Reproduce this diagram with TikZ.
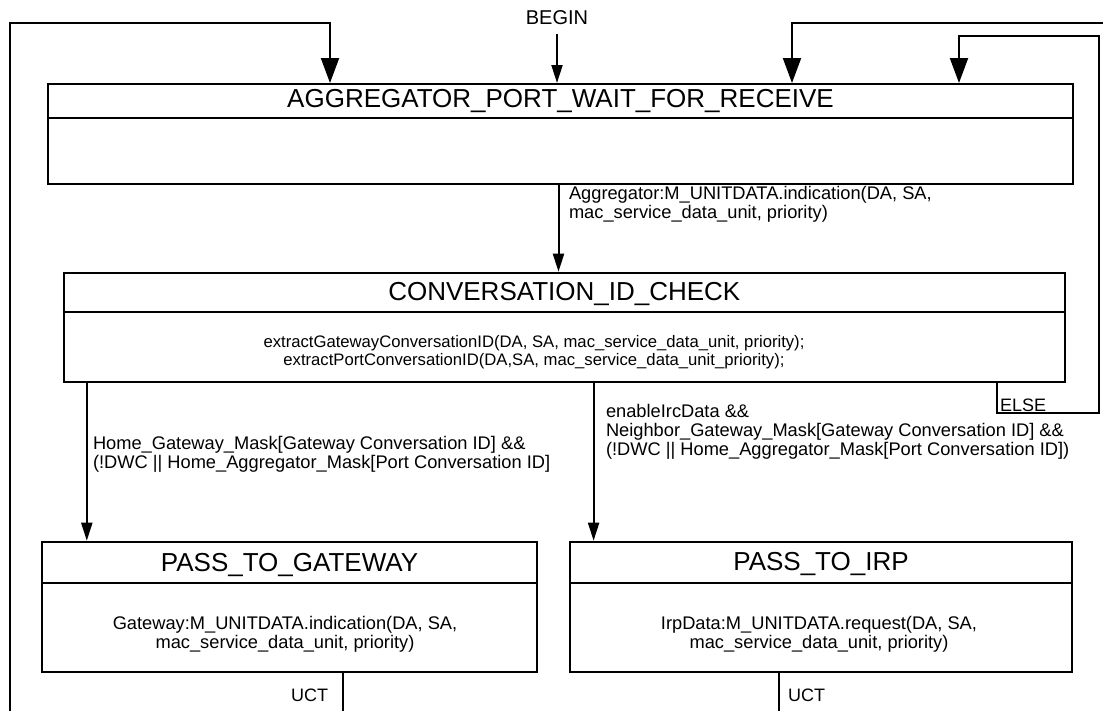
\documentclass[tikz,border=0pt]{standalone}
\usepackage{fontspec}
\setmainfont{Liberation Sans}
\usetikzlibrary{arrows.meta,fit}

\begin{document}
\begin{tikzpicture}[x=0.75pt,y=-0.75pt,
  line width=1.5pt,
  statebox/.style={draw, line width=1.5pt, inner sep=0pt},
  titletext/.style={font=\fontsize{19.5}{23}\selectfont, anchor=base, inner sep=0pt},
  bodytext/.style={font=\fontsize{13.7}{14.5}\selectfont, align=center, anchor=north, inner sep=0pt},
  condtext/.style={font=\fontsize{13.7}{14.25}\selectfont, align=left, anchor=north west, inner sep=0pt},
  smalltext/.style={font=\fontsize{13.5}{15}\selectfont, inner sep=0pt},
  bigarr/.style={-{Triangle[length=18.75pt,width=13.5pt]}},
  smallarr/.style={-{Triangle[length=13.5pt,width=8.25pt]}},
]
% canvas
\path[fill=white,use as bounding box] (0,0) rectangle (1103,711);

% state boxes
\node[statebox, fit={(48,84) (1073,184)}] (wait) {};
\node[statebox, fit={(63.6,272.7) (1065,381.7)}] (conv) {};
\node[statebox, fit={(42,541.7) (537,671.7)}] (gw) {};
\node[statebox, fit={(570.4,541.7) (1071.8,671.7)}] (irp) {};

% title separators
\coordinate (waitD) at (0,118);
\coordinate (convD) at (0,312);
\coordinate (gwD) at (0,582.7);
\coordinate (irpD) at (0,582.7);
\draw (wait.west |- waitD) -- (wait.east |- waitD);
\draw (conv.west |- convD) -- (conv.east |- convD);
\draw (gw.west |- gwD) -- (gw.east |- gwD);
\draw (irp.west |- irpD) -- (irp.east |- irpD);

% titles
\node[titletext] (waitT) at (560.5,107) {AGGREGATOR\_PORT\_WAIT\_FOR\_RECEIVE};
\node[titletext] (convT) at (564.3,300) {CONVERSATION\_ID\_CHECK};
\node[titletext] (gwT) at (289.5,571.5) {PASS\_TO\_GATEWAY};
\node[titletext] (irpT) at (821,570.7) {PASS\_TO\_IRP};

% state actions
\node[bodytext, font=\fontsize{12.5}{13.75}\selectfont] (convB) at (534,334.5)
  {extractGatewayConversationID(DA, SA, mac\_service\_data\_unit, priority);\\
   extractPortConversationID(DA,SA, mac\_service\_data\_unit\_priority);};
\node[bodytext] (gwB) at (285,615)
  {Gateway:M\_UNITDATA.indication(DA, SA,\\mac\_service\_data\_unit, priority)};
\node[bodytext] (irpB) at (819,615)
  {IrpData:M\_UNITDATA.request(DA, SA,\\mac\_service\_data\_unit, priority)};

% entry
\node[font=\fontsize{15}{18}\selectfont, anchor=base, inner xsep=0pt, inner ysep=6.5pt] (begin) at (557,24) {BEGIN};
\draw[smallarr] (begin.south) -- (wait.north -| begin.south);

% loops back into the waiting state
\coordinate (lb) at (10,711);
\coordinate (lt) at (330,22.7);
\draw[bigarr] (lb) |- (lt) -- (wait.north -| lt);

\coordinate (rb) at (1103,22.7);
\coordinate (rt) at (792,22.7);
\draw[bigarr] (rb) -- (rt) -- (wait.north -| rt);

\coordinate (ex) at (997,412.7);
\coordinate (er) at (1099,36);
\coordinate (et) at (959,36);
\draw[bigarr] (conv.south -| ex) -- (ex) -| (er) -- (et) -- (wait.north -| et);
\node[smalltext, anchor=base west] (elseL) at (999,411.3) {ELSE};

% received frame
\coordinate (m1) at (558.5,0);
\draw[smallarr] (wait.south -| m1) -- (conv.north -| m1);
\node[condtext] (aggL) at (568,185)
  {Aggregator:M\_UNITDATA.indication(DA, SA,\\mac\_service\_data\_unit, priority)};

% forwarding branches
\coordinate (bx1) at (86.8,0);
\coordinate (bx2) at (593.6,0);
\draw[smallarr] (conv.south -| bx1) -- (gw.north -| bx1);
\draw[smallarr] (conv.south -| bx2) -- (irp.north -| bx2);
\node[condtext] (gwL) at (92,435)
  {Home\_Gateway\_Mask[Gateway Conversation ID] \&\&\\(!DWC || Home\_Aggregator\_Mask[Port Conversation ID]};
\node[condtext] (irpL) at (605,403.5)
  {enableIrcData \&\&\\Neighbor\_Gateway\_Mask[Gateway Conversation ID] \&\&\\(!DWC || Home\_Aggregator\_Mask[Port Conversation ID])};

% unconditional exits
\coordinate (u1) at (343,711);
\coordinate (u2) at (779,711);
\draw (gw.south -| u1) -- (u1);
\draw (irp.south -| u2) -- (u2);
\node[smalltext, anchor=base east] (uct1) at (329,701) {UCT};
\node[smalltext, anchor=base west] (uct2) at (787,701) {UCT};
\end{tikzpicture}
\end{document}
